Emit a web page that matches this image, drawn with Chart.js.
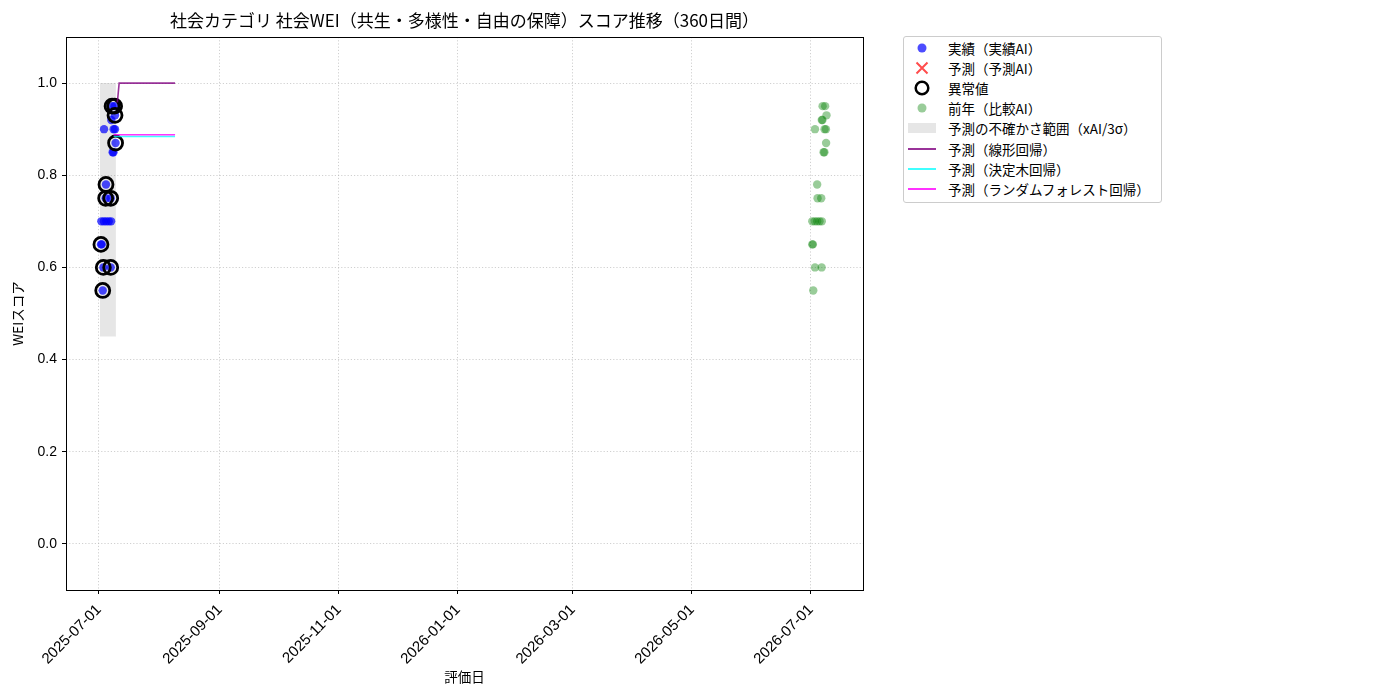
<!DOCTYPE html>
<html>
<head>
<meta charset="utf-8">
<script src="https://cdn.jsdelivr.net/npm/chart.js@4.4.1/dist/chart.umd.min.js"></script>
<style>
  html, body { margin: 0; padding: 0; background: #ffffff; }
  #wrap { position: relative; width: 1400px; height: 700px; overflow: hidden; }
  #c { position: absolute; left: 0; top: 0; }
  #title { position: absolute; left: 66px; width: 797px; top: 7px; text-align: center;
           font: 17px "Noto Sans CJK JP", sans-serif; color: #000; white-space: nowrap; }
  #legend { position: absolute; left: 903px; top: 36px; width: 259px; height: 167px;
            border: 1px solid #cccccc; border-radius: 3px; box-sizing: border-box; background: #fff; }
  .lrow { position: absolute; left: 0; height: 20px; width: 100%; }
  .lrow svg { position: absolute; left: 4px; top: 0; }
  .lrow span { position: absolute; left: 44px; top: 0; line-height: 20px;
               font: 13.5px "Noto Sans CJK JP", sans-serif; color: #000; white-space: nowrap; }
</style>
</head>
<body>
<div id="wrap">
  <canvas id="c" width="1400" height="700"></canvas>
  <div id="title">社会カテゴリ 社会WEI（共生・多様性・自由の保障）スコア推移（360日間）</div>
  <div id="legend"></div>
</div>
<script>
// ---------------- data ----------------
const tickDates = ['2025-07-01','2025-09-01','2025-11-01','2026-01-01','2026-03-01','2026-05-01','2026-07-01'];
const yTicks = [0.0, 0.2, 0.4, 0.6, 0.8, 1.0];
const xRange = ['2025-06-14T02:00', '2026-07-27T17:00'];
const yRange = [-0.1, 1.1];

// 実績（実績AI）
const actualDates = [
  '2025-07-02T00:00','2025-07-02T10:00','2025-07-02T22:00','2025-07-03T05:00','2025-07-07T00:00',
  '2025-07-02T05:00','2025-07-03T12:00','2025-07-04T17:00','2025-07-06T00:00','2025-07-07T05:00',
  '2025-07-04T10:00','2025-07-07T00:00','2025-07-04T14:00','2025-07-08T00:00','2025-07-08T10:00',
  '2025-07-09T12:00','2025-07-03T14:00','2025-07-08T12:00','2025-07-09T05:00','2025-07-07T07:00',
  '2025-07-09T05:00','2025-07-07T17:00','2025-07-09T00:00'
];
const actualValues = [
  0.65, 0.65, 0.55, 0.60, 0.60,
  0.70, 0.70, 0.70, 0.70, 0.70,
  0.75, 0.75, 0.78, 0.85, 0.85,
  0.87, 0.90, 0.90, 0.90, 0.92,
  0.93, 0.95, 0.95
];

// 異常値
const anomalyDates = [
  '2025-07-02T00:00','2025-07-02T22:00','2025-07-03T05:00','2025-07-07T00:00',
  '2025-07-04T10:00','2025-07-07T00:00','2025-07-04T14:00','2025-07-09T12:00',
  '2025-07-09T05:00','2025-07-07T17:00','2025-07-09T00:00'
];
const anomalyValues = [0.65, 0.55, 0.60, 0.60, 0.75, 0.75, 0.78, 0.87, 0.93, 0.95, 0.95];

// 予測（予測AI） — no points visible
const predDates = [];
const predValues = [];

// 前年（比較AI）
const prevDates = [
  '2026-07-01T17:00','2026-07-02T00:00','2026-07-02T05:00','2026-07-03T02:00','2026-07-06T12:00',
  '2026-07-01T17:00','2026-07-03T00:00','2026-07-04T05:00','2026-07-05T10:00','2026-07-06T14:00',
  '2026-07-04T10:00','2026-07-06T07:00','2026-07-04T05:00','2026-07-07T12:00','2026-07-07T22:00',
  '2026-07-08T19:00','2026-07-03T02:00','2026-07-08T00:00','2026-07-08T17:00','2026-07-06T14:00',
  '2026-07-06T22:00','2026-07-09T00:00','2026-07-07T00:00','2026-07-08T07:00'
];
const prevValues = [
  0.65, 0.65, 0.55, 0.60, 0.60,
  0.70, 0.70, 0.70, 0.70, 0.70,
  0.75, 0.75, 0.78, 0.85, 0.85,
  0.87, 0.90, 0.90, 0.90, 0.92,
  0.92, 0.93, 0.95, 0.95
];

// 予測の不確かさ範囲（xAI/3σ）
const bandDates = ['2025-07-01T12:00', '2025-07-09T16:00'];
const bandUpper = [1.0, 1.0];
const bandLower = [0.45, 0.45];

// 予測ライン
const linearDates = ['2025-07-10T10:00', '2025-07-11T08:00', '2025-08-09T00:00'];
const linearValues = [0.958, 1.0, 1.0];
const treeDates = ['2025-07-08T12:00', '2025-08-09T00:00'];
const treeValues = [0.884, 0.884];
const forestDates = ['2025-07-08T12:00', '2025-08-09T00:00'];
const forestValues = [0.888, 0.888];

// ---------------- helpers ----------------
const ts = s => Date.parse((s.length === 10 ? s + 'T00:00' : s) + ':00Z');
const pts = (ds, vs) => ds.map((d, i) => ({ x: ts(d), y: vs[i] }));
const tickValues = tickDates.map(ts);

const frame = {
  id: 'frame',
  afterDraw(chart) {
    const { ctx, chartArea: a } = chart;
    ctx.save();
    ctx.strokeStyle = '#000';
    ctx.lineWidth = 1;
    ctx.strokeRect(Math.round(a.left) + 0.5, Math.round(a.top) + 0.5,
                   Math.round(a.right - a.left), Math.round(a.bottom - a.top));
    ctx.restore();
  }
};

const XTICKFONT = { family: '"Liberation Sans", "Noto Sans CJK JP", sans-serif', size: 15 };
const YTICKFONT = { family: '"Liberation Sans", "Noto Sans CJK JP", sans-serif', size: 14 };
const JPFONT = { family: '"Noto Sans CJK JP", sans-serif', size: 13.5 };

new Chart(document.getElementById('c'), {
  type: 'scatter',
  data: {
    datasets: [
      { label: 'band_upper', data: pts(bandDates, bandUpper), showLine: true, borderWidth: 0,
        pointRadius: 0, fill: false, order: 9 },
      { label: '予測の不確かさ範囲（xAI/3σ）', data: pts(bandDates, bandLower), showLine: true, borderWidth: 0,
        pointRadius: 0, fill: '-1', backgroundColor: 'rgba(128,128,128,0.2)', order: 8 },
      { label: '前年（比較AI）', data: pts(prevDates, prevValues), pointRadius: 4.2, borderWidth: 0,
        backgroundColor: 'rgba(0,128,0,0.4)', order: 7 },
      { label: '実績（実績AI）', data: pts(actualDates, actualValues), pointRadius: 4.2, borderWidth: 0,
        backgroundColor: 'rgba(0,0,255,0.7)', order: 6 },
      { label: '予測（予測AI）', data: pts(predDates, predValues), pointStyle: 'crossRot', pointRadius: 6,
        borderWidth: 2, borderColor: 'rgba(255,0,0,0.7)', order: 5 },
      { label: '異常値', data: pts(anomalyDates, anomalyValues), pointRadius: 7, borderWidth: 2.8,
        borderColor: '#000', backgroundColor: 'rgba(0,0,0,0)', order: 4 },
      { label: '予測（線形回帰）', data: pts(linearDates, linearValues), showLine: true, pointRadius: 0,
        borderWidth: 1.6, borderColor: 'rgba(128,0,128,0.8)', fill: false, order: 3 },
      { label: '予測（決定木回帰）', data: pts(treeDates, treeValues), showLine: true, pointRadius: 0,
        borderWidth: 1.6, borderColor: 'rgba(0,255,255,0.75)', fill: false, order: 2 },
      { label: '予測（ランダムフォレスト回帰）', data: pts(forestDates, forestValues), showLine: true, pointRadius: 0,
        borderWidth: 1.6, borderColor: 'rgba(255,0,255,0.8)', fill: false, order: 1 }
    ]
  },
  options: {
    responsive: false,
    animation: false,
    devicePixelRatio: 1,
    layout: { padding: { left: 0, right: 537, top: 37, bottom: 0 } },
    plugins: { legend: { display: false }, tooltip: { enabled: false }, title: { display: false } },
    scales: {
      x: {
        type: 'linear',
        min: ts(xRange[0]), max: ts(xRange[1]),
        afterFit: s => { s.height = 110; },
        afterBuildTicks: s => { s.ticks = tickValues.map(v => ({ value: v })); },
        ticks: {
          autoSkip: false, maxRotation: 45, minRotation: 45, padding: 7,
          color: '#000', font: XTICKFONT,
          callback: (v) => { const i = tickValues.indexOf(v); return i >= 0 ? tickDates[i] : ''; }
        },
        grid: { color: 'rgba(176,176,176,0.75)', lineWidth: 0.8, tickColor: '#000', tickLength: 4,
                tickWidth: 1, tickBorderDash: [] },
        border: { display: false, dash: [1.2, 2] },
        title: { display: true, text: '評価日', color: '#000', font: JPFONT, padding: { top: 0, bottom: 15 } }
      },
      y: {
        min: yRange[0], max: yRange[1],
        afterFit: s => { s.width = 66; },
        afterBuildTicks: s => { s.ticks = yTicks.map(v => ({ value: v })); },
        ticks: { color: '#000', font: YTICKFONT, padding: 5, callback: v => v.toFixed(1) },
        grid: { color: 'rgba(176,176,176,0.75)', lineWidth: 0.8, tickColor: '#000', tickLength: 4,
                tickWidth: 1, tickBorderDash: [] },
        border: { display: false, dash: [1.2, 2] },
        title: { display: true, text: 'WEIスコア', color: '#000', font: JPFONT, padding: { top: 10, bottom: 0 } }
      }
    }
  },
  plugins: [frame]
});

// ---------------- legend ----------------
const legendItems = [
  ['dot', 'rgba(0,0,255,0.7)', '実績（実績AI）'],
  ['x', 'rgba(255,0,0,0.7)', '予測（予測AI）'],
  ['ring', '#000', '異常値'],
  ['dot', 'rgba(0,128,0,0.4)', '前年（比較AI）'],
  ['rect', 'rgba(128,128,128,0.2)', '予測の不確かさ範囲（xAI/3σ）'],
  ['line', 'rgba(128,0,128,0.8)', '予測（線形回帰）'],
  ['line', 'rgba(0,255,255,0.75)', '予測（決定木回帰）'],
  ['line', 'rgba(255,0,255,0.8)', '予測（ランダムフォレスト回帰）']
];
const lg = document.getElementById('legend');
legendItems.forEach((it, i) => {
  const [kind, col, text] = it;
  let shape = '';
  if (kind === 'dot') shape = `<circle cx="14" cy="10" r="4.5" fill="${col}"/>`;
  if (kind === 'x') shape = `<path d="M8.5 4.5 L19.5 15.5 M19.5 4.5 L8.5 15.5" stroke="${col}" stroke-width="2"/>`;
  if (kind === 'ring') shape = `<circle cx="14" cy="10" r="6.3" fill="none" stroke="${col}" stroke-width="2.5"/>`;
  if (kind === 'rect') shape = `<rect x="0" y="5" width="28" height="10" fill="${col}"/>`;
  if (kind === 'line') shape = `<line x1="0" y1="10" x2="28" y2="10" stroke="${col}" stroke-width="2"/>`;
  const row = document.createElement('div');
  row.className = 'lrow';
  row.style.top = (1 + i * 20.1) + 'px';
  row.innerHTML = `<svg width="30" height="20">${shape}</svg><span>${text}</span>`;
  lg.appendChild(row);
});
</script>
</body>
</html>
